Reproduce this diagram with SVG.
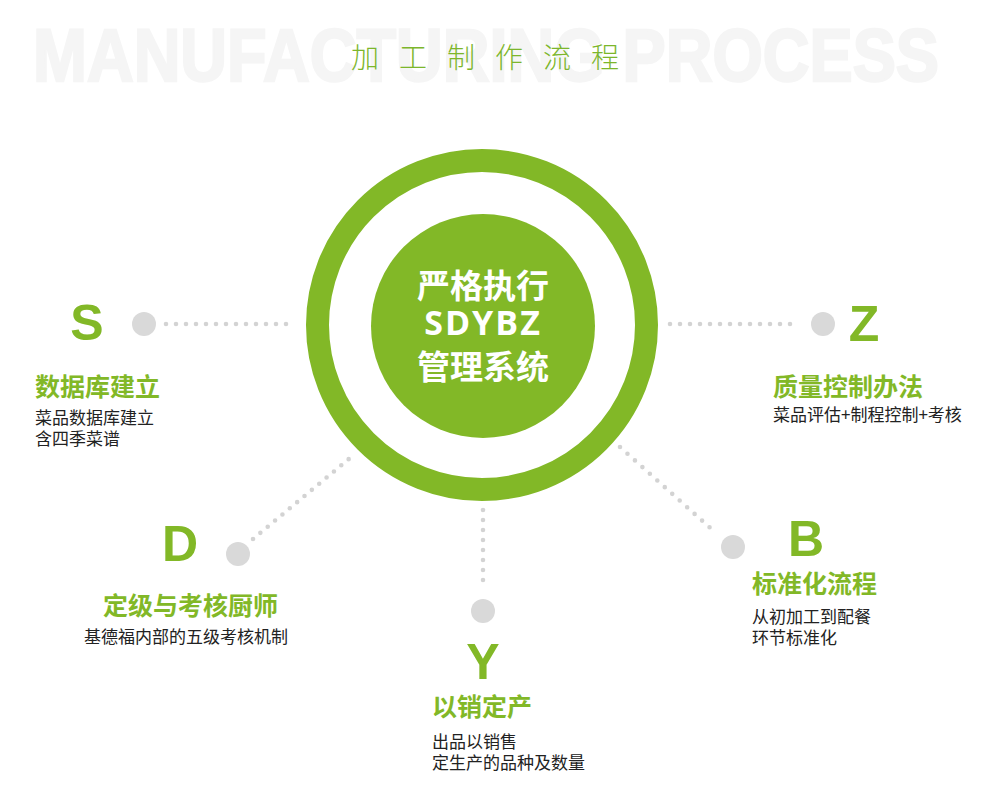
<svg xmlns="http://www.w3.org/2000/svg" width="1000" height="811" viewBox="0 0 1000 811">
<defs>
<style>
.bg{font-family:"Liberation Sans",Arial,sans-serif;font-weight:bold;fill:#f5f5f5;stroke:#f5f5f5;stroke-width:2.5;font-size:74px}
.title{font-family:"Noto Sans CJK SC",sans-serif;font-weight:300;fill:#7cb62b;font-size:28px;letter-spacing:20px}
.center{font-family:"Noto Sans CJK SC","Open Sans",sans-serif;font-weight:bold;fill:#ffffff;font-size:33px;text-anchor:middle}
.letter{font-family:"Liberation Sans",Arial,sans-serif;font-weight:bold;fill:#82b827;font-size:50px;text-anchor:middle}
.head{font-family:"Noto Sans CJK SC",sans-serif;font-weight:bold;fill:#82b827;font-size:25px}
.desc{font-family:"Noto Sans CJK SC",sans-serif;fill:#222222;font-size:17px}
.dot{fill:#d9d9d9}
.conn{stroke:#d3d3d3;stroke-width:4.6;stroke-linecap:round;fill:none}
</style>
</defs>
<rect width="1000" height="811" fill="#ffffff"/>
<text class="bg" x="33" y="81" textLength="906" lengthAdjust="spacingAndGlyphs">MANUFACTURING PROCESS</text>
<text class="title" x="351" y="68">加工制作流程</text>

<g id="connectors">
<line class="conn" x1="166" y1="324" x2="296" y2="324" stroke-dasharray="0 10"/>
<line class="conn" x1="670" y1="324" x2="800" y2="324" stroke-dasharray="0 10"/>
<line class="conn" x1="483" y1="510" x2="483" y2="590" stroke-dasharray="0 10"/>
<line class="conn" x1="253" y1="539" x2="356" y2="453" pathLength="14" stroke-dasharray="0 1"/>
<line class="conn" x1="620" y1="447" x2="717" y2="534" pathLength="13" stroke-dasharray="0 1"/>
</g>

<g id="center">
<circle cx="482" cy="325" r="164.5" fill="none" stroke="#82b827" stroke-width="23"/>
<circle cx="483" cy="326" r="112" fill="#82b827"/>
<text class="center" x="483" y="298">严格执行</text>
<text class="center" x="483" y="335" style="font-family:'Open Sans','Noto Sans',sans-serif;font-size:34px;letter-spacing:2px">SDYBZ</text>
<text class="center" x="483" y="379">管理系统</text>
</g>

<g id="node-s">
<text class="letter" x="87" y="340">S</text>
<circle class="dot" cx="144" cy="324" r="12"/>
<text class="head" x="35" y="396">数据库建立</text>
<text class="desc" x="35" y="424">菜品数据库建立</text>
<text class="desc" x="35" y="445">含四季菜谱</text>
</g>

<g id="node-z">
<text class="letter" x="864" y="341">Z</text>
<circle class="dot" cx="823" cy="324" r="12"/>
<text class="head" x="773" y="396">质量控制办法</text>
<text class="desc" x="773" y="421">菜品评估+制程控制+考核</text>
</g>

<g id="node-d">
<text class="letter" x="180" y="561">D</text>
<circle class="dot" cx="238" cy="554" r="12"/>
<text class="head" x="103" y="615">定级与考核厨师</text>
<text class="desc" x="84" y="643">基德福内部的五级考核机制</text>
</g>

<g id="node-y">
<circle class="dot" cx="483" cy="611" r="12"/>
<text class="letter" x="483" y="679">Y</text>
<text class="head" x="432" y="716">以销定产</text>
<text class="desc" x="432" y="748">出品以销售</text>
<text class="desc" x="432" y="769">定生产的品种及数量</text>
</g>

<g id="node-b">
<circle class="dot" cx="733" cy="547" r="12"/>
<text class="letter" x="806" y="556">B</text>
<text class="head" x="752" y="593">标准化流程</text>
<text class="desc" x="752" y="623">从初加工到配餐</text>
<text class="desc" x="752" y="644">环节标准化</text>
</g>
</svg>
